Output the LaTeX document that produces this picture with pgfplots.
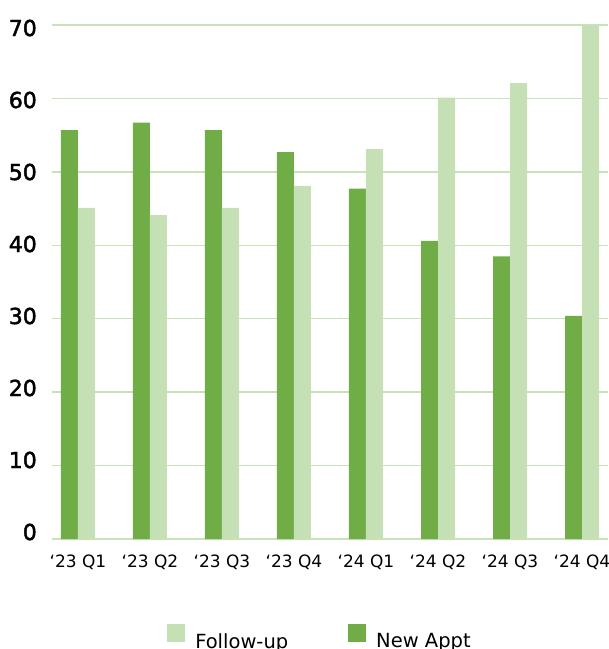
\documentclass[border=0pt]{standalone}
\usepackage{pgfplots}
\pgfplotsset{compat=1.18}
\usepackage{fontspec}
\setmainfont{DejaVu Sans}
\newfontfamily\tickfont{DejaVu Sans}[FakeBold=2]
\definecolor{newappt}{HTML}{70AD47}
\definecolor{followup}{HTML}{C5E0B4}
\definecolor{gridc}{HTML}{C9E3B8}

\begin{document}
\begin{tikzpicture}
\begin{axis}[
  at={(0,0)}, anchor=south west,
  scale only axis, width=556pt, height=514pt,
  xmin=-0.361, xmax=7.361, ymin=0, ymax=70,
  ybar=0pt, bar width=17pt,
  axis x line=bottom, axis y line=left,
  axis line style={draw=none},
  major tick length=0pt,
  ymajorgrids, grid style={gridc, line width=1.5pt},
  ytick={0,10,...,70},
  xtick={0,...,7},
  xticklabels={{‘23 Q1},{‘23 Q2},{‘23 Q3},{‘23 Q4},{‘24 Q1},{‘24 Q2},{‘24 Q3},{‘24 Q4}},
  /pgf/number format/assume math mode=true,
  yticklabel style={font=\tickfont\fontsize{22}{26}\selectfont, inner sep=0pt, anchor=east,
    xshift=-15pt, yshift={(7-1.43*\ticknum)*1pt}},
  xticklabel style={font=\fontsize{17}{20}\selectfont, inner sep=0pt, anchor=north, yshift=-16pt},
  legend style={draw=none, fill=none, at={(0.482,-0.162)}, anchor=north,
    font=\fontsize{19.5}{23}\selectfont,
    /tikz/every odd column/.append style={column sep=8pt},
    /tikz/every even column/.append style={column sep=58pt}},
  legend columns=2,
  legend image code/.code={\fill[#1] (0pt,-1pt) rectangle (18pt,17pt);},
]
\addplot[fill=newappt, draw=none, bar shift=-8.5pt, forget plot] coordinates {
  (0,55.7) (1,56.7) (2,55.7) (3,52.7) (4,47.7) (5,40.6) (6,38.5) (7,30.4)};
\addplot[fill=followup, draw=none, bar shift=8.5pt, forget plot] coordinates {
  (0,45.1) (1,44.1) (2,45.1) (3,48.1) (4,53.1) (5,60.1) (6,62.1) (7,70.0)};
\addlegendimage{fill=followup, draw=none}
\addlegendentry{Follow-up}
\addlegendimage{fill=newappt, draw=none}
\addlegendentry{New Appt}
\end{axis}
\pgfresetboundingbox
\path[use as bounding box] (-52pt,-110pt) rectangle (557pt,539pt);
\end{tikzpicture}
\end{document}
